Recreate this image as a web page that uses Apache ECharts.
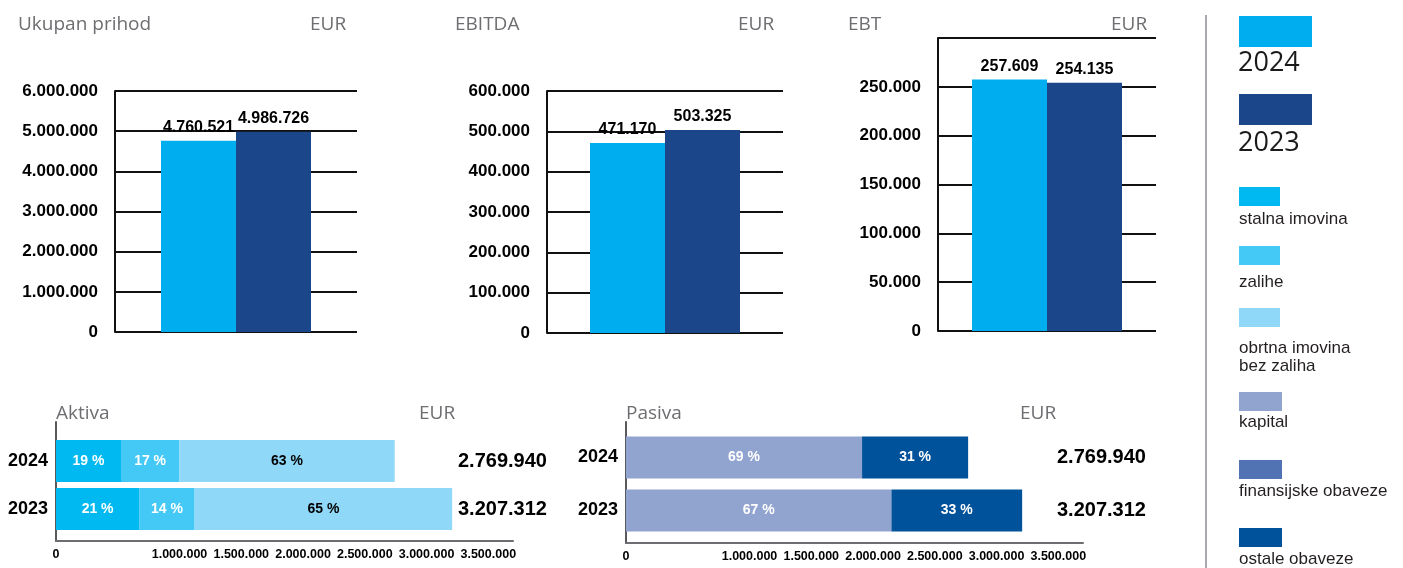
<!DOCTYPE html>
<html>
<head>
<meta charset="utf-8">
<script src="https://cdn.jsdelivr.net/npm/echarts@6/dist/echarts.min.js"></script>
<style>
  html, body { margin: 0; padding: 0; background: #fff; }
  #chart { width: 1403px; height: 568px; }
</style>
</head>
<body>
<div id="chart"></div>
<script>
var years = ['2024', '2023'];
var prihod = [4760521, 4986726];
var ebitda = [471170, 503325];
var ebt = [257609, 254135];
var aktivaUkupno = [2769940, 3207312];
var pasivaUkupno = [2769940, 3207312];
var stalnaPct = [19, 21];
var zalihePct = [17, 14];
var obrtnaPct = [63, 65];
var kapitalPct = [69, 67];
var ostalePct = [31, 33];
var bilansTicks = [0, 1000000, 1500000, 2000000, 2500000, 3000000, 3500000];
var legendNames = ['stalna imovina', 'zalihe', 'obrtna imovina\nbez zaliha', 'kapital', 'finansijske obaveze', 'ostale obaveze'];

var boje = {
    g2024: '#00aeef', g2023: '#1b468a',
    stalna: '#00b9f1', zalihe: '#44c8f5', obrtna: '#8fd8f7',
    kapital: '#91a3cf', finansijske: '#5173b3', ostale: '#00529b'
};
var legendColors = [boje.stalna, boje.zalihe, boje.obrtna, boje.kapital, boje.finansijske, boje.ostale];

var helv = "'Liberation Sans', Arial, sans-serif";
var myriad = "'Open Sans', 'Noto Sans', sans-serif";

function fmt(v) {
    return String(Math.round(v)).replace(/\B(?=(\d{3})+(?!\d))/g, '.');
}

var boldLabel = { color: '#000', fontWeight: 'bold', fontFamily: helv };

// gornji grafikoni: prihod, EBITDA, EBT
function topY(idx, max, step, hideMax) {
    return {
        type: 'value', gridIndex: idx, min: 0, max: max, interval: step,
        axisLine: { show: true, lineStyle: { color: '#111', width: 2 } },
        axisTick: { show: false },
        splitLine: { show: true, lineStyle: { color: '#111', width: 2 } },
        axisLabel: Object.assign({ fontSize: 17, margin: 17, showMaxLabel: !hideMax, formatter: fmt }, boldLabel)
    };
}

function topBars(idx, values) {
    return years.map(function (y, i) {
        return {
            name: y, type: 'bar', xAxisIndex: idx, yAxisIndex: idx,
            data: [values[i]], barWidth: 75, barGap: '0%',
            itemStyle: { color: i === 0 ? boje.g2024 : boje.g2023 },
            label: Object.assign({
                show: true, position: 'top', distance: 5, fontSize: 16,
                formatter: function (p) { return fmt(p.value); }
            }, boldLabel)
        };
    });
}

// donji grafikoni: aktiva, pasiva
function segment(name, xIdx, yIdx, stack, pct, total, color, labelColor) {
    return {
        name: name, type: 'bar', stack: stack, xAxisIndex: xIdx, yAxisIndex: yIdx,
        barWidth: 42,
        data: total.map(function (t, i) { return t * pct[i] / 100; }),
        itemStyle: { color: color },
        label: {
            show: true, position: 'inside', color: labelColor,
            fontWeight: 'bold', fontSize: 14, fontFamily: helv,
            formatter: function (p) { return pct[p.dataIndex] + ' %'; }
        }
    };
}

var bilansMax = 3700000;
function frameX(idx) {
    return {
        type: 'value', gridIndex: idx, min: 0, max: bilansMax, interval: 500000,
        axisLine: { show: true, lineStyle: { color: '#6d6e71', width: 2 } },
        axisTick: { show: false }, splitLine: { show: false },
        axisLabel: Object.assign({
            fontSize: 12.5, margin: 7,
            formatter: function (v) { return bilansTicks.indexOf(v) >= 0 ? fmt(v) : ''; }
        }, boldLabel)
    };
}
function hiddenX(idx) {
    return { type: 'value', gridIndex: idx, min: 0, max: bilansMax, show: false };
}
function frameY(idx) {
    return {
        type: 'category', gridIndex: idx, data: years,
        axisLine: { show: true, lineStyle: { color: '#58595b', width: 2 } },
        axisTick: { show: false }, axisLabel: { show: false }
    };
}
function yearY(idx) {
    return {
        type: 'category', gridIndex: idx, data: years, inverse: true,
        axisLine: { show: false }, axisTick: { show: false },
        axisLabel: Object.assign({ fontSize: 18, margin: 8 }, boldLabel)
    };
}
function totalY(idx, totals, shift) {
    return {
        type: 'category', gridIndex: idx, position: 'right', inverse: true,
        data: totals.map(fmt),
        axisLine: { show: false }, axisTick: { show: false },
        axisLabel: Object.assign({ fontSize: 20, margin: shift, align: 'left' }, boldLabel)
    };
}

var graphic = [];
function title(text, x, y) {
    graphic.push({ type: 'text', x: x, y: y, style: {
        text: text, fill: '#6d6e71', font: '19px ' + myriad, align: 'left', verticalAlign: 'middle' } });
}
title('Ukupan prihod', 18, 25); title('EUR', 310, 25);
title('EBITDA', 455, 25); title('EUR', 738, 25);
title('EBT', 848, 25); title('EUR', 1111, 25);
title('Aktiva', 56, 414); title('EUR', 419, 414);
title('Pasiva', 626, 414); title('EUR', 1020, 414);

// legenda
graphic.push({ type: 'line', shape: { x1: 1206, y1: 15, x2: 1206, y2: 568 },
    style: { stroke: '#a7a9ac', lineWidth: 2 } });
[[boje.g2024, 16, 63], [boje.g2023, 94, 143]].forEach(function (r, i) {
    graphic.push({ type: 'rect', shape: { x: 1239, y: r[1], width: 73, height: 31 }, style: { fill: r[0] } });
    graphic.push({ type: 'text', x: 1238, y: r[2], style: {
        text: years[i], fill: '#1a1a1a', font: '27px ' + myriad, align: 'left', verticalAlign: 'middle' } });
});
var swTop = [187, 246, 308, 392, 460, 528];
var txtY = [219, 282, 357, 422, 491, 559];
legendNames.forEach(function (n, i) {
    graphic.push({ type: 'rect', shape: { x: 1239, y: swTop[i], width: i < 3 ? 41 : 43, height: 19 },
        style: { fill: legendColors[i] } });
    graphic.push({ type: 'text', x: 1239, y: txtY[i], style: {
        text: n, fill: '#231f20', font: '17px ' + helv, lineHeight: 18, align: 'left', verticalAlign: 'middle' } });
});

var option = {
    animation: false,
    backgroundColor: '#fff',
    textStyle: { fontFamily: helv },
    grid: [
        { left: 115, top: 91, width: 242, height: 241 },
        { left: 547, top: 91, width: 236, height: 242 },
        { left: 938, top: 38, width: 218, height: 293 },
        { left: 56, top: 422, width: 457, height: 119 },
        { left: 56, top: 437, width: 457, height: 96 },
        { left: 626, top: 422, width: 457, height: 121 },
        { left: 626, top: 431, width: 457, height: 106 }
    ],
    xAxis: [
        { type: 'category', gridIndex: 0, data: ['Ukupan prihod'], show: false },
        { type: 'category', gridIndex: 1, data: ['EBITDA'], show: false },
        { type: 'category', gridIndex: 2, data: ['EBT'], show: false },
        frameX(3), hiddenX(4), frameX(5), hiddenX(6)
    ],
    yAxis: [
        topY(0, 6000000, 1000000, false),
        topY(1, 600000, 100000, false),
        topY(2, 300000, 50000, true),
        frameY(3), yearY(4), totalY(4, aktivaUkupno, -55),
        frameY(5), yearY(6), totalY(6, pasivaUkupno, -26)
    ],
    series: [].concat(
        topBars(0, prihod),
        topBars(1, ebitda),
        topBars(2, ebt),
        [
            segment('stalna imovina', 4, 4, 'aktiva', stalnaPct, aktivaUkupno, boje.stalna, '#fff'),
            segment('zalihe', 4, 4, 'aktiva', zalihePct, aktivaUkupno, boje.zalihe, '#fff'),
            segment('obrtna imovina bez zaliha', 4, 4, 'aktiva', obrtnaPct, aktivaUkupno, boje.obrtna, '#000'),
            segment('kapital', 6, 7, 'pasiva', kapitalPct, pasivaUkupno, boje.kapital, '#fff'),
            segment('ostale obaveze', 6, 7, 'pasiva', ostalePct, pasivaUkupno, boje.ostale, '#fff')
        ]
    ),
    graphic: graphic
};

var chart = echarts.init(document.getElementById('chart'));
chart.setOption(option);
</script>
</body>
</html>
